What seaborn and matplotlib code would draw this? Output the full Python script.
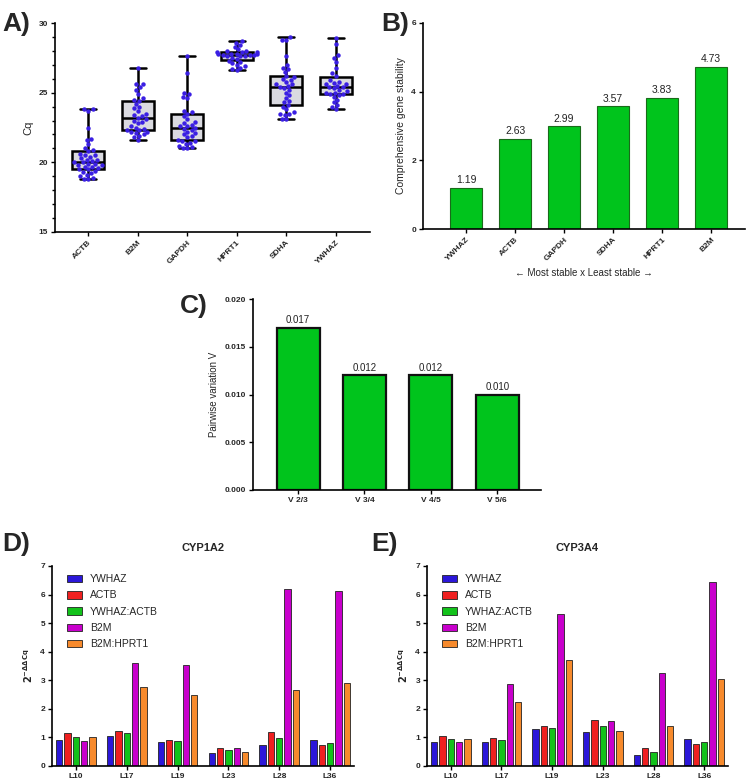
import numpy as np
import pandas as pd
import matplotlib
matplotlib.use("Agg")
import matplotlib.pyplot as plt
from matplotlib.ticker import MultipleLocator
import seaborn as sns

sns.set_theme(style="ticks")
plt.rcParams['font.family'] = ['Liberation Sans', 'DejaVu Sans']

# ---------------- data ----------------
genes_a = ["ACTB", "B2M", "GAPDH", "HPRT1", "SDHA", "YWHAZ"]
cq_actb = [23.8, 23.8, 23.7, 22.5, 21.7, 21.6, 21.3, 21.0, 20.9, 20.8, 20.6, 20.5, 20.5, 20.4,
           20.3, 20.2, 20.2, 20.1, 20.0, 20.0, 19.9, 19.9, 19.8, 19.8, 19.7, 19.7, 19.6, 19.5,
           19.5, 19.4, 19.3, 19.2, 19.1, 19.0, 18.9, 18.8, 18.8]
cq_b2m = [26.8, 25.6, 25.6, 25.4, 25.2, 24.9, 24.6, 24.5, 24.4, 24.2, 24.0, 23.9, 23.7, 23.5,
          23.4, 23.3, 23.2, 23.1, 23.0, 22.9, 22.8, 22.6, 22.5, 22.4, 22.3, 22.3, 22.2, 22.2,
          22.1, 22.0, 21.9, 21.8, 21.6]
cq_gapdh = [27.6, 26.4, 25.0, 24.9, 24.7, 24.6, 23.7, 23.6, 23.5, 23.3, 23.1, 22.9, 22.8, 22.7,
            22.6, 22.6, 22.5, 22.4, 22.3, 22.2, 22.1, 22.0, 21.9, 21.8, 21.6, 21.5, 21.5, 21.4,
            21.3, 21.2, 21.1, 21.0, 21.0]
cq_hprt1 = [28.7, 28.6, 28.4, 28.3, 28.1, 28.0, 28.0, 27.9, 27.9, 27.9, 27.8, 27.8, 27.8, 27.8,
            27.7, 27.7, 27.7, 27.6, 27.6, 27.6, 27.5, 27.4, 27.3, 27.2, 27.1, 27.0, 26.9, 26.8,
            26.7, 26.6]
cq_sdha = [29.0, 28.8, 28.8, 27.6, 27.0, 26.8, 26.7, 26.5, 26.2, 26.1, 26.0, 25.9, 25.8, 25.6,
           25.6, 25.5, 25.4, 25.3, 25.2, 25.0, 24.8, 24.6, 24.4, 24.3, 24.1, 24.0, 23.8, 23.6,
           23.5, 23.5, 23.4, 23.1, 23.1]
cq_ywhaz = [28.9, 28.5, 27.7, 27.5, 27.2, 26.8, 26.4, 26.2, 25.9, 25.8, 25.7, 25.6, 25.6, 25.5,
            25.4, 25.4, 25.3, 25.2, 25.1, 25.0, 25.0, 24.9, 24.9, 24.8, 24.7, 24.5, 24.3, 24.1,
            24.0, 23.8]

genes_b = ["YWHAZ", "ACTB", "GAPDH", "SDHA", "HPRT1", "B2M"]
stability_b = [1.19, 2.63, 2.99, 3.57, 3.83, 4.73]

pairs_c = ["V 2/3", "V 3/4", "V 4/5", "V 5/6"]
pairwise_c = [0.017, 0.012, 0.012, 0.010]

samples = ["L10", "L17", "L19", "L23", "L28", "L36"]
refs = ["YWHAZ", "ACTB", "YWHAZ:ACTB", "B2M", "B2M:HPRT1"]
cyp1a2 = {
    "YWHAZ":      [0.91, 1.05, 0.85, 0.45, 0.72, 0.90],
    "ACTB":       [1.14, 1.21, 0.92, 0.63, 1.19, 0.72],
    "YWHAZ:ACTB": [1.02, 1.14, 0.88, 0.55, 0.97, 0.80],
    "B2M":        [0.88, 3.59, 3.54, 0.63, 6.20, 6.14],
    "B2M:HPRT1":  [1.02, 2.78, 2.47, 0.48, 2.65, 2.89],
}
cyp3a4 = {
    "YWHAZ":      [0.84, 0.84, 1.28, 1.18, 0.38, 0.95],
    "ACTB":       [1.05, 0.97, 1.39, 1.60, 0.62, 0.77],
    "YWHAZ:ACTB": [0.95, 0.90, 1.33, 1.41, 0.50, 0.84],
    "B2M":        [0.84, 2.86, 5.32, 1.57, 3.26, 6.45],
    "B2M:HPRT1":  [0.95, 2.24, 3.70, 1.21, 1.39, 3.05],
}
ref_colors = ["#2b17d9", "#ef2020", "#12c21a", "#c800cc", "#f78a2c"]

# ---------------- figure ----------------
W, H = 748, 783
fig = plt.figure(figsize=(W / 100, H / 100), dpi=100)

def axes_px(l, t, r, b):
    return fig.add_axes([l / W, 1 - b / H, (r - l) / W, (b - t) / H])

def style_axes(ax):
    sns.despine(ax=ax)
    for s in ("left", "bottom"):
        ax.spines[s].set_linewidth(1.2)
        ax.spines[s].set_color("black")
    ax.tick_params(axis="both", which="major", length=3, width=1, color="black", pad=2)

tick_font = dict(fontsize=6, fontweight="bold")

# ---- A ----
axA = axes_px(55, 23, 370, 232)
cq_lists = [cq_actb, cq_b2m, cq_gapdh, cq_hprt1, cq_sdha, cq_ywhaz]
dfA = pd.DataFrame({"gene": np.repeat(genes_a, [len(v) for v in cq_lists]),
                    "Cq": np.concatenate(cq_lists)})
sns.boxplot(data=dfA, x="gene", y="Cq", order=genes_a, whis=(0, 100), width=0.65,
            color="#d9d9e1", linecolor="black", linewidth=1.8, fliersize=0, ax=axA)
sns.swarmplot(data=dfA, x="gene", y="Cq", order=genes_a, color="#3a1fe3", size=3.2,
              marker="o", ax=axA, warn_thresh=1)
axA.set_ylim(15, 30)
axA.set_xlim(-0.67, 5.69)
axA.yaxis.set_major_locator(MultipleLocator(5))
axA.yaxis.set_minor_locator(MultipleLocator(1))
style_axes(axA)
axA.tick_params(axis="y", which="minor", length=2, width=1, color="black")
axA.set_xlabel("")
axA.set_ylabel("Cq", fontsize=8)
axA.set_xticks(range(len(genes_a)))
axA.set_xticklabels(genes_a, rotation=45, ha="right", rotation_mode="anchor", **tick_font)
for lbl in axA.get_yticklabels():
    lbl.set_fontsize(6)
    lbl.set_fontweight("bold")

# ---- B ----
axB = axes_px(423, 23, 745, 229)
dfB = pd.DataFrame({"gene": genes_b, "val": stability_b})
sns.barplot(data=dfB, x="gene", y="val", color="#00c41c", saturation=1, width=0.65,
            edgecolor="#1a6a1a", linewidth=0.8, ax=axB)
for c in axB.containers:
    axB.bar_label(c, labels=[f"{v:.2f}" for v in stability_b], fontsize=7.5, padding=2,
                  color="#222222")
axB.set_ylim(0, 6)
axB.set_xlim(-0.88, 5.69)
axB.yaxis.set_major_locator(MultipleLocator(2))
style_axes(axB)
axB.set_ylabel("Comprehensive gene stability", fontsize=7.5)
axB.set_xlabel("\u2190 Most stable x Least stable \u2192", fontsize=7, labelpad=4)
axB.set_xticks(range(len(genes_b)))
axB.set_xticklabels(genes_b, rotation=45, ha="right", rotation_mode="anchor", **tick_font)
for lbl in axB.get_yticklabels():
    lbl.set_fontsize(6)
    lbl.set_fontweight("bold")

# ---- C ----
axC = axes_px(253, 299, 541, 490)
dfC = pd.DataFrame({"pair": pairs_c, "val": pairwise_c})
sns.barplot(data=dfC, x="pair", y="val", color="#00c41c", saturation=1, width=0.65,
            edgecolor="#111111", linewidth=1.6, ax=axC)
for c in axC.containers:
    axC.bar_label(c, labels=[f"{v:.3f}" for v in pairwise_c], fontsize=7, padding=2,
                  color="#222222")
axC.set_ylim(0, 0.020)
axC.set_xlim(-0.68, 3.66)
axC.yaxis.set_major_locator(MultipleLocator(0.005))
axC.yaxis.set_major_formatter(matplotlib.ticker.FormatStrFormatter("%.3f"))
style_axes(axC)
axC.set_ylabel("Pairwise variation V", fontsize=7)
axC.set_xlabel("")
axC.set_xticks(range(len(pairs_c)))
axC.set_xticklabels(pairs_c, **tick_font)
for lbl in axC.get_yticklabels():
    lbl.set_fontsize(6)
    lbl.set_fontweight("bold")

# ---- D / E ----
def grouped(ax, data, title):
    df = pd.DataFrame([(s, r, data[r][i]) for r in refs for i, s in enumerate(samples)],
                      columns=["sample", "ref", "val"])
    sns.barplot(data=df, x="sample", y="val", hue="ref", order=samples, hue_order=refs,
                palette=ref_colors, saturation=1, width=0.82, gap=0.25,
                edgecolor="#222222", linewidth=0.6, ax=ax)
    ax.set_ylim(0, 7)
    ax.set_xlim(-0.47, 5.47)
    ax.yaxis.set_major_locator(MultipleLocator(1))
    style_axes(ax)
    ax.set_xlabel("")
    ax.set_ylabel(r"$\mathbf{2^{-\Delta\Delta Cq}}$", fontsize=7)
    ax.set_title(title, fontsize=8, fontweight="bold", pad=11)
    ax.set_xticks(range(len(samples)))
    ax.set_xticklabels(samples, **tick_font)
    for lbl in ax.get_yticklabels():
        lbl.set_fontsize(6)
        lbl.set_fontweight("bold")
    ax.legend(loc="upper left", bbox_to_anchor=(0.03, 0.99), frameon=False, fontsize=7.5,
              handlelength=1.4, handleheight=0.7, labelspacing=0.6, borderaxespad=0.2,
              handletextpad=0.8)

axD = axes_px(52, 566, 354, 766)
grouped(axD, cyp1a2, "CYP1A2")
axE = axes_px(427, 566, 728, 766)
grouped(axE, cyp3a4, "CYP3A4")

# ---- panel labels ----
for txt, x, y in [("A)", 2, 24), ("B)", 381, 24), ("C)", 180, 306),
                  ("D)", 2, 544), ("E)", 371, 544)]:
    fig.text(x / W, 1 - y / H, txt, fontsize=19, fontweight="bold", va="center", ha="left")

fig.savefig("out.png", dpi=100)
